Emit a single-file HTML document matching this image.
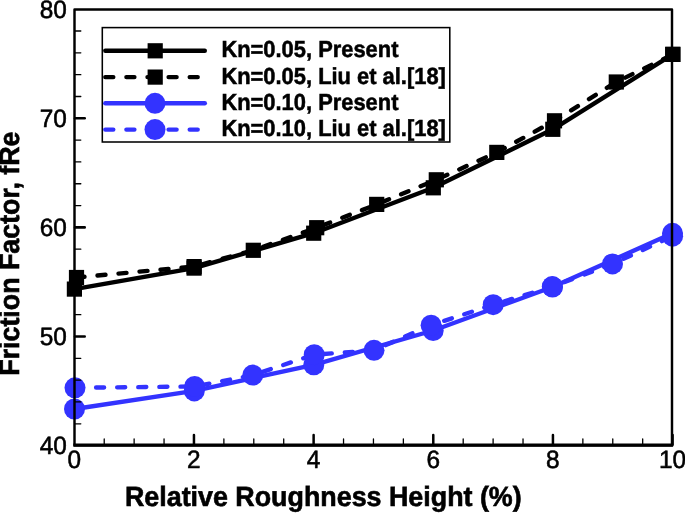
<!DOCTYPE html>
<html><head><meta charset="utf-8"><title>Friction factor vs relative roughness height</title>
<style>
html,body{margin:0;padding:0;background:#fff;}
body{width:685px;height:513px;overflow:hidden;}
svg{display:block;will-change:transform;}
text{font-family:"Liberation Sans",sans-serif;fill:#000;text-rendering:geometricPrecision;}
.tk{font-size:24.4px;stroke:#000;stroke-width:0.55px;}
.lg{font-size:21.9px;font-weight:bold;stroke:#000;stroke-width:0.5px;}
.ti{font-size:26.85px;font-weight:bold;stroke:#000;stroke-width:0.6px;}
</style></head><body>
<svg width="685" height="513" viewBox="0 0 685 513">
<rect x="0" y="0" width="685" height="513" fill="#fff"/>
<g fill="#000">
<polyline points="74.4,289.1 194.1,268.1 313.7,233.2 433.3,187.8 552.8,129.3 672.7,54.4" fill="none" stroke="#000" stroke-width="4.4" stroke-linecap="round" stroke-linejoin="round"/>
<rect x="66.8" y="281.5" width="15.2" height="15.2"/><rect x="186.5" y="260.5" width="15.2" height="15.2"/><rect x="306.1" y="225.6" width="15.2" height="15.2"/><rect x="425.7" y="180.2" width="15.2" height="15.2"/><rect x="545.2" y="121.7" width="15.2" height="15.2"/><rect x="665.1" y="46.8" width="15.2" height="15.2"/>
<polyline points="76.5,277.5 194.1,266.6 253.3,250.3 316.7,227.7 376.7,204.4 436.3,179.8 496.8,152.4 554.5,120.8 616.3,82.0 672.9,54.4" fill="none" stroke="#000" stroke-width="4.4" stroke-linecap="round" stroke-linejoin="round" stroke-dasharray="8 13.1"/>
<rect x="68.9" y="269.9" width="15.2" height="15.2"/><rect x="186.5" y="259.0" width="15.2" height="15.2"/><rect x="245.7" y="242.7" width="15.2" height="15.2"/><rect x="309.1" y="220.1" width="15.2" height="15.2"/><rect x="369.1" y="196.8" width="15.2" height="15.2"/><rect x="428.7" y="172.2" width="15.2" height="15.2"/><rect x="489.2" y="144.8" width="15.2" height="15.2"/><rect x="546.9" y="113.2" width="15.2" height="15.2"/><rect x="608.7" y="74.4" width="15.2" height="15.2"/><rect x="665.3" y="46.8" width="15.2" height="15.2"/>
</g>
<g fill="#3333ff">
<polyline points="74.5,409.0 194.3,390.9 313.8,364.8 433.2,330.5 552.5,287.0 672.5,233.3" fill="none" stroke="#3333ff" stroke-width="4.4" stroke-linecap="round" stroke-linejoin="round"/>
<circle cx="74.5" cy="409.0" r="10.5"/><circle cx="194.3" cy="390.9" r="10.5"/><circle cx="313.8" cy="364.8" r="10.5"/><circle cx="433.2" cy="330.5" r="10.5"/><circle cx="552.5" cy="287.0" r="10.5"/><circle cx="672.5" cy="233.3" r="10.5"/>
<polyline points="75.0,387.8 194.6,386.5 252.8,375.1 314.2,354.7 374.0,350.3 431.1,325.2 493.2,304.7 552.3,286.6 612.5,263.9 672.6,236.2" fill="none" stroke="#3333ff" stroke-width="4.4" stroke-linecap="round" stroke-linejoin="round" stroke-dasharray="8 13.1"/>
<circle cx="75.0" cy="387.8" r="10.5"/><circle cx="194.6" cy="386.5" r="10.5"/><circle cx="252.8" cy="375.1" r="10.5"/><circle cx="314.2" cy="354.7" r="10.5"/><circle cx="374.0" cy="350.3" r="10.5"/><circle cx="431.1" cy="325.2" r="10.5"/><circle cx="493.2" cy="304.7" r="10.5"/><circle cx="552.3" cy="286.6" r="10.5"/><circle cx="612.5" cy="263.9" r="10.5"/><circle cx="672.6" cy="236.2" r="10.5"/>
</g>
<g stroke="#000" fill="none" stroke-linecap="round">
<rect x="74.5" y="9.5" width="597.5" height="435.7" stroke-width="2.45" stroke-linejoin="round"/>
<line x1="73.35" y1="445.15" x2="673.15" y2="445.15" stroke-width="3.3" stroke-linecap="butt"/>
<line x1="104.22" y1="444.7" x2="104.22" y2="438.9" stroke-width="1.3"/><line x1="134.13" y1="444.7" x2="134.13" y2="438.9" stroke-width="1.3"/><line x1="164.05" y1="444.7" x2="164.05" y2="438.9" stroke-width="1.3"/><line x1="193.96" y1="444.7" x2="193.96" y2="435.0" stroke-width="2.5"/><line x1="223.88" y1="444.7" x2="223.88" y2="438.9" stroke-width="1.3"/><line x1="253.79" y1="444.7" x2="253.79" y2="438.9" stroke-width="1.3"/><line x1="283.71" y1="444.7" x2="283.71" y2="438.9" stroke-width="1.3"/><line x1="313.62" y1="444.7" x2="313.62" y2="435.0" stroke-width="2.5"/><line x1="343.54" y1="444.7" x2="343.54" y2="438.9" stroke-width="1.3"/><line x1="373.45" y1="444.7" x2="373.45" y2="438.9" stroke-width="1.3"/><line x1="403.37" y1="444.7" x2="403.37" y2="438.9" stroke-width="1.3"/><line x1="433.28" y1="444.7" x2="433.28" y2="435.0" stroke-width="2.5"/><line x1="463.20" y1="444.7" x2="463.20" y2="438.9" stroke-width="1.3"/><line x1="493.11" y1="444.7" x2="493.11" y2="438.9" stroke-width="1.3"/><line x1="523.03" y1="444.7" x2="523.03" y2="438.9" stroke-width="1.3"/><line x1="552.94" y1="444.7" x2="552.94" y2="435.0" stroke-width="2.5"/><line x1="582.86" y1="444.7" x2="582.86" y2="438.9" stroke-width="1.3"/><line x1="612.77" y1="444.7" x2="612.77" y2="438.9" stroke-width="1.3"/><line x1="642.68" y1="444.7" x2="642.68" y2="438.9" stroke-width="1.3"/><line x1="672.60" y1="444.7" x2="672.60" y2="435.0" stroke-width="2.5"/>
<line x1="75.1" y1="423.78" x2="80.8" y2="423.78" stroke-width="1.3"/><line x1="75.1" y1="401.96" x2="80.8" y2="401.96" stroke-width="1.3"/><line x1="75.1" y1="380.14" x2="80.8" y2="380.14" stroke-width="1.3"/><line x1="75.1" y1="358.32" x2="80.8" y2="358.32" stroke-width="1.3"/><line x1="75.1" y1="336.50" x2="84.7" y2="336.50" stroke-width="2.6"/><line x1="75.1" y1="314.68" x2="80.8" y2="314.68" stroke-width="1.3"/><line x1="75.1" y1="292.86" x2="80.8" y2="292.86" stroke-width="1.3"/><line x1="75.1" y1="271.04" x2="80.8" y2="271.04" stroke-width="1.3"/><line x1="75.1" y1="249.22" x2="80.8" y2="249.22" stroke-width="1.3"/><line x1="75.1" y1="227.40" x2="84.7" y2="227.40" stroke-width="2.6"/><line x1="75.1" y1="205.58" x2="80.8" y2="205.58" stroke-width="1.3"/><line x1="75.1" y1="183.76" x2="80.8" y2="183.76" stroke-width="1.3"/><line x1="75.1" y1="161.94" x2="80.8" y2="161.94" stroke-width="1.3"/><line x1="75.1" y1="140.12" x2="80.8" y2="140.12" stroke-width="1.3"/><line x1="75.1" y1="118.30" x2="84.7" y2="118.30" stroke-width="2.6"/><line x1="75.1" y1="96.48" x2="80.8" y2="96.48" stroke-width="1.3"/><line x1="75.1" y1="74.66" x2="80.8" y2="74.66" stroke-width="1.3"/><line x1="75.1" y1="52.84" x2="80.8" y2="52.84" stroke-width="1.3"/><line x1="75.1" y1="31.02" x2="80.8" y2="31.02" stroke-width="1.3"/>
</g>
<text class="tk" transform="translate(66.8,453.90) scale(1,1.03)" text-anchor="end">40</text><text class="tk" transform="translate(66.8,344.80) scale(1,1.03)" text-anchor="end">50</text><text class="tk" transform="translate(66.8,235.70) scale(1,1.03)" text-anchor="end">60</text><text class="tk" transform="translate(66.8,126.60) scale(1,1.03)" text-anchor="end">70</text><text class="tk" transform="translate(66.8,17.50) scale(1,1.03)" text-anchor="end">80</text>
<text class="tk" transform="translate(74.20,467.9) scale(1,1.03)" text-anchor="middle">0</text><text class="tk" transform="translate(193.86,467.9) scale(1,1.03)" text-anchor="middle">2</text><text class="tk" transform="translate(313.52,467.9) scale(1,1.03)" text-anchor="middle">4</text><text class="tk" transform="translate(433.18,467.9) scale(1,1.03)" text-anchor="middle">6</text><text class="tk" transform="translate(552.84,467.9) scale(1,1.03)" text-anchor="middle">8</text><text class="tk" transform="translate(672.50,467.9) scale(1,1.03)" text-anchor="middle">10</text>
<rect x="102.3" y="27.6" width="347.5" height="114.4" fill="#fff" stroke="#000" stroke-width="1.55"/>
<line x1="105.3" y1="50.8" x2="204.8" y2="50.8" stroke="#000" stroke-width="4.4" stroke-linecap="round"/><rect x="147.6" y="43.2" width="15.2" height="15.2" fill="#000"/><text class="lg" transform="translate(221.4,57.2) scale(1,1.059)">Kn=0.05, Present</text>
<line x1="105.3" y1="77.1" x2="204.8" y2="77.1" stroke="#000" stroke-width="4.4" stroke-linecap="round" stroke-dasharray="8 13.1"/><rect x="147.6" y="69.5" width="15.2" height="15.2" fill="#000"/><text class="lg" transform="translate(221.4,83.5) scale(1,1.059)">Kn=0.05, Liu et al.[18]</text>
<line x1="105.3" y1="103.3" x2="204.8" y2="103.3" stroke="#3333ff" stroke-width="4.4" stroke-linecap="round"/><circle cx="155" cy="103.3" r="10.5" fill="#3333ff"/><text class="lg" transform="translate(221.4,109.7) scale(1,1.059)">Kn=0.10, Present</text>
<line x1="105.3" y1="129.6" x2="204.8" y2="129.6" stroke="#3333ff" stroke-width="4.4" stroke-linecap="round" stroke-dasharray="8 13.1"/><circle cx="155" cy="129.6" r="10.5" fill="#3333ff"/><text class="lg" transform="translate(221.4,136.0) scale(1,1.059)">Kn=0.10, Liu et al.[18]</text>
<text class="ti" transform="translate(323.3,505.8) scale(1,1.034)" text-anchor="middle">Relative Roughness Height (%)</text>
<text class="ti" transform="translate(19.4,253.6) rotate(-90) scale(1,1.05)" text-anchor="middle" style="font-size:26.8px">Friction Factor, fRe</text>
</svg></body></html>
